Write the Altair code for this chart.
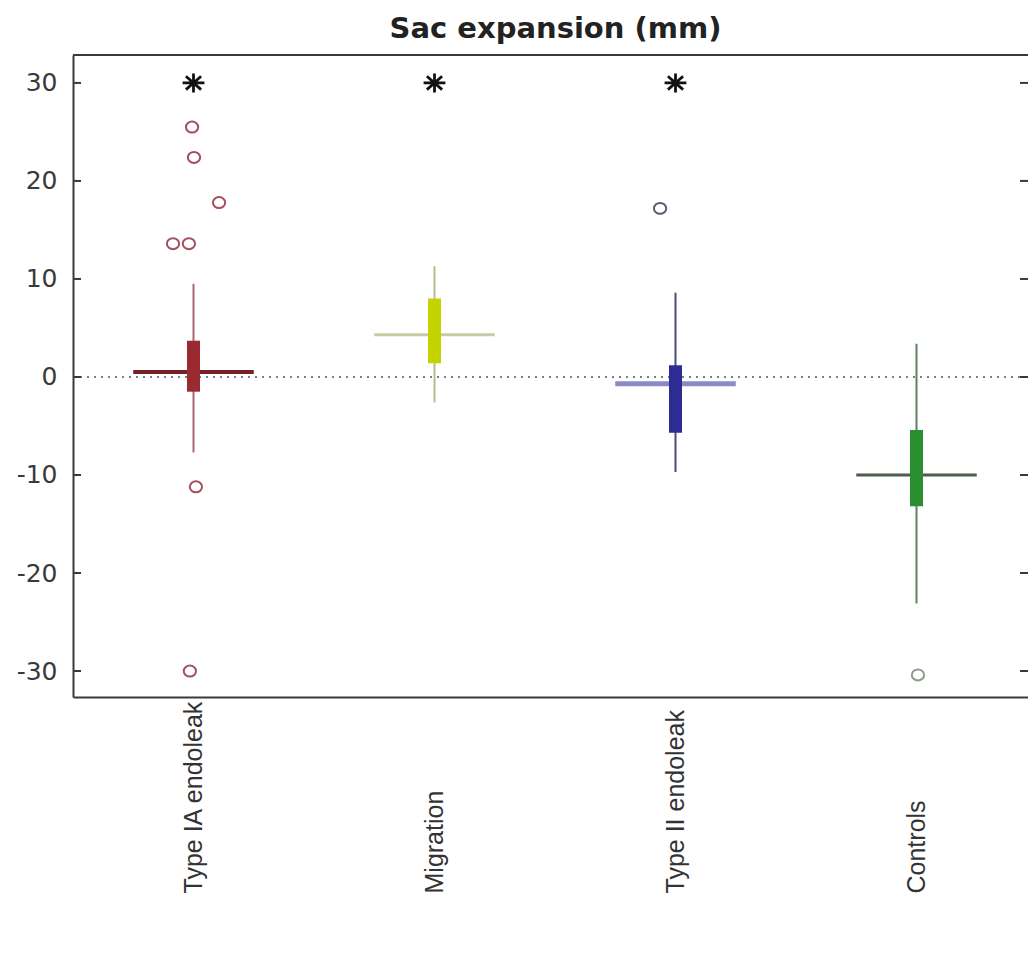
import altair as alt
import pandas as pd

# ---------------- data ----------------
groups = ["Type IA endoleak", "Migration", "Type II endoleak", "Controls"]
group_pos = [1, 2, 3, 4]
whisker_low = [-7.7, -2.6, -9.7, -23.1]
box_low = [-1.5, 1.4, -5.7, -13.2]
median = [0.5, 4.3, -0.7, -10.0]
box_high = [3.7, 8.0, 1.2, -5.4]
whisker_high = [9.5, 11.3, 8.6, 3.4]

outlier_group = [1, 1, 1, 1, 1, 1, 1, 3, 4]
outlier_value = [25.5, 22.4, 17.8, 13.6, 13.6, -11.2, -30.0, 17.2, -30.4]
outlier_jitter = [-0.006, 0.002, 0.106, -0.085, -0.019, 0.010, -0.015, -0.064, 0.006]

star_group = [1, 2, 3]
star_value = [30, 30, 30]

y_ticks = [-30, -20, -10, 0, 10, 20, 30]

# ---------------- styles ----------------
box_colors = ["#9a2a30", "#c4d200", "#2f2b94", "#2a8f2f"]
whisker_colors = ["#a46a72", "#b9b98e", "#4b4b7c", "#5f805f"]
median_colors = ["#7a1f25", "#c9c9a4", "#8a8ac4", "#4d5d4d"]
median_widths = [4, 3, 5, 3]
outlier_colors = ["#a44e5e", "#b9b98e", "#5a5a78", "#8c9c8c"]
half_median = 0.25
FONT = "Liberation Sans"
WIDE_FONT = "DejaVu Sans"
W, H = 955, 642

df = pd.DataFrame({
    "group": groups,
    "x": group_pos,
    "wlo": whisker_low,
    "blo": box_low,
    "med": median,
    "bhi": box_high,
    "whi": whisker_high,
    "box_color": box_colors,
    "whisker_color": whisker_colors,
    "median_color": median_colors,
    "median_width": median_widths,
})
df["mlo"] = df["x"] - half_median
df["mhi"] = df["x"] + half_median

out_df = pd.DataFrame({
    "x": [g + j for g, j in zip(outlier_group, outlier_jitter)],
    "v": outlier_value,
    "c": [outlier_colors[g - 1] for g in outlier_group],
})
star_df = pd.DataFrame({"x": star_group, "v": star_value})
tick_df = pd.DataFrame({"v": y_ticks})

label_expr = "[" + ",".join("'" + g + "'" for g in groups) + "][datum.value - 1]"

x_scale = alt.Scale(domain=[0.5, 0.5 + W / 241.0], nice=False, zero=False)
y_scale = alt.Scale(domain=[-32.65, 32.85], nice=False, zero=False)

x_axis = alt.Axis(
    values=group_pos, labelExpr=label_expr, labelAngle=270, labelAlign="left",
    labelBaseline="middle", labelPadding=196, labelFontSize=25, labelFont=FONT,
    labelColor="#333333", ticks=False, grid=False, domainColor="#3a3a3a",
    domainWidth=2, title=None, labelOverlap=False, labelFlush=False, labelBound=False,
    labelLimit=0,
)
y_axis = alt.Axis(
    values=y_ticks, labelExpr="toString(datum.value)", ticks=False, grid=False,
    labelFontSize=25, labelFont=WIDE_FONT, labelColor="#3a3a3a", labelPadding=16,
    domainColor="#3a3a3a", domainWidth=2, title=None,
)


def X(field):
    return alt.X(field, type="quantitative", scale=x_scale, axis=x_axis)


def Y(field):
    return alt.Y(field, type="quantitative", scale=y_scale, axis=y_axis)


base = alt.Chart(df)

zero_line = alt.Chart(pd.DataFrame({"v": [0]})).mark_rule(
    color="#7a7a9a", strokeWidth=2, strokeDash=[2, 5]
).encode(y=Y("v"), x=alt.value(0), x2=alt.value(W))

medians = base.mark_rule().encode(
    x=X("mlo"), x2="mhi", y=Y("med"),
    color=alt.Color("median_color:N", scale=None),
    strokeWidth=alt.StrokeWidth("median_width:Q", scale=None),
)

whiskers = base.mark_rule(strokeWidth=2).encode(
    x=X("x"), y=Y("wlo"), y2="whi",
    color=alt.Color("whisker_color:N", scale=None),
)

boxes = base.mark_rule(strokeWidth=13, strokeCap="butt").encode(
    x=X("x"), y=Y("blo"), y2="bhi",
    color=alt.Color("box_color:N", scale=None),
)

ellipse_path = "M-1.12,0A1.12,1,0,1,0,1.12,0A1.12,1,0,1,0,-1.12,0Z"
outliers = alt.Chart(out_df).mark_point(
    shape=ellipse_path, filled=False, size=120, strokeWidth=2, opacity=1
).encode(x=X("x"), y=Y("v"), color=alt.Color("c:N", scale=None))

star_path = "M-1.15,0L1.15,0M0,-1L0,1M-0.8,-0.7L0.8,0.7M-0.8,0.7L0.8,-0.7"
stars = alt.Chart(star_df).mark_point(
    shape=star_path, filled=False, size=360, strokeWidth=2.8, color="#111111", opacity=1
).encode(x=X("x"), y=Y("v"))

left_ticks = alt.Chart(tick_df).mark_rule(color="#3a3a3a", strokeWidth=2).encode(
    y=Y("v"), x=alt.value(0), x2=alt.value(8)
)
right_ticks = alt.Chart(tick_df).mark_rule(color="#3a3a3a", strokeWidth=2).encode(
    y=Y("v"), x=alt.value(W - 8), x2=alt.value(W)
)
top_border = alt.Chart(pd.DataFrame({"a": [0]})).mark_rule(
    color="#3a3a3a", strokeWidth=2
).encode(x=alt.value(0), x2=alt.value(W), y=alt.value(0))

chart = alt.layer(
    zero_line, medians, whiskers, boxes, outliers, stars, left_ticks, right_ticks, top_border
).properties(
    width=W,
    height=H,
    title=alt.TitleParams(
        "Sac expansion (mm)", font=WIDE_FONT, fontSize=29, fontWeight="bold",
        color="#222222", anchor="middle", offset=10, dx=5,
    ),
    autosize=alt.AutoSizeParams(type="none"),
    padding={"left": 73, "top": 55, "right": 0, "bottom": 263},
).configure_view(stroke=None).configure(background="white")

chart.save("out.html", embed_options={"renderer": "svg", "actions": False})
